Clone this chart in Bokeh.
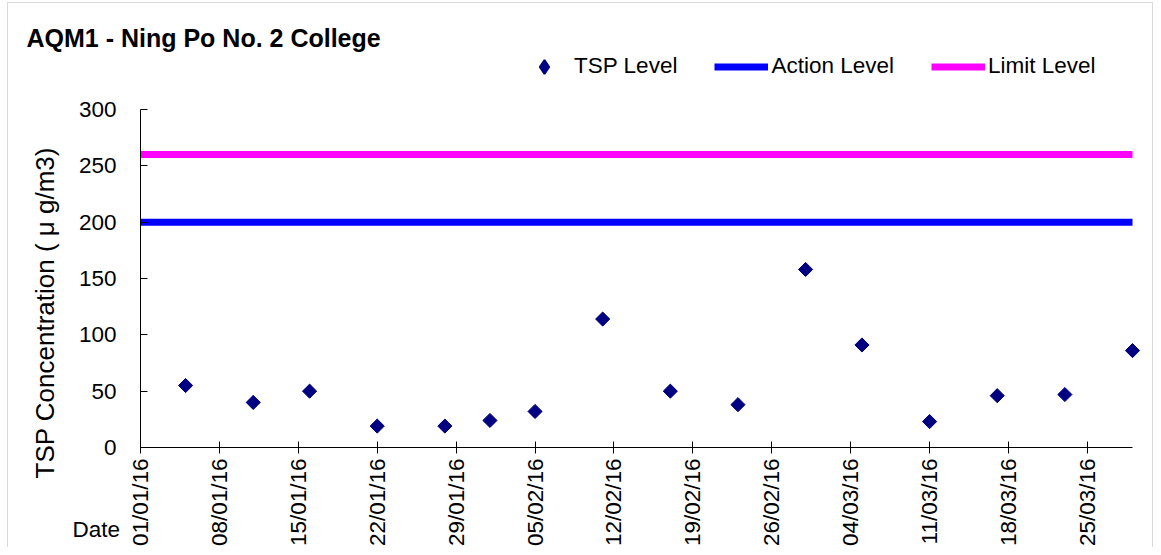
import numpy as np
import pandas as pd
from bokeh.plotting import figure
from bokeh.models import (Range1d, FixedTicker, Legend, LegendItem,
                          ColumnDataSource, Label, BoxAnnotation)
from bokeh.embed import file_html
from bokeh.resources import INLINE

# ---------------- data ----------------
sample_dates = ["2016-01-05", "2016-01-11", "2016-01-16", "2016-01-22",
                "2016-01-28", "2016-02-01", "2016-02-05", "2016-02-11",
                "2016-02-17", "2016-02-23", "2016-02-29", "2016-03-05",
                "2016-03-11", "2016-03-17", "2016-03-23", "2016-03-29"]
tsp_level = [55, 40, 50, 19, 19, 24, 32, 114, 50, 38, 158, 91, 23, 46, 47, 86]

action_level = 200
limit_level = 260
level_dates = ["2016-01-01", "2016-03-29"]

tick_dates = ["2016-01-01", "2016-01-08", "2016-01-15", "2016-01-22",
              "2016-01-29", "2016-02-05", "2016-02-12", "2016-02-19",
              "2016-02-26", "2016-03-04", "2016-03-11", "2016-03-18",
              "2016-03-25"]
tick_labels = ["01/01/16", "08/01/16", "15/01/16", "22/01/16", "29/01/16",
               "05/02/16", "12/02/16", "19/02/16", "26/02/16", "04/03/16",
               "11/03/16", "18/03/16", "25/03/16"]
y_ticks = [0, 50, 100, 150, 200, 250, 300]
y_bounds = [0, 300]

title_text = "AQM1 - Ning Po No. 2 College"
y_label_text = "TSP Concentration ( \u03bc g/m3)"
x_label_text = "Date"


def ms(d):
    return pd.Timestamp(d).value / 1e6


# ---------------- layout geometry (pixels) ----------------
W, H = 1153, 547
PX_X0, PX_X1 = 140, 1132       # where the x axis starts / ends
PX_Y0, PX_Y1 = 447, 109        # where y = 0 / y = 300 sit
FONT = "Liberation Sans"
FS = "22.5px"
MID = 0.3465                   # em-box centre above the baseline

x0, x1 = ms(level_dates[0]), ms(level_dates[1])
ppx = (PX_X1 - PX_X0) / (x1 - x0)
ppy = (PX_Y0 - PX_Y1) / (y_bounds[1] - y_bounds[0])

p = figure(width=W, height=H, x_axis_type="datetime",
           output_backend="svg", toolbar_location=None,
           min_border=0, min_border_left=0, min_border_right=0,
           min_border_top=0, min_border_bottom=0)
p.x_range = Range1d(x0 - PX_X0 / ppx, x0 + (W - PX_X0) / ppx)
p.y_range = Range1d(-(H - PX_Y0) / ppy, PX_Y0 / ppy)
p.grid.visible = False
p.outline_line_color = None
p.background_fill_color = "white"
p.border_fill_color = "white"

# level lines
src_lvl = ColumnDataSource(dict(x=[ms(d) for d in level_dates],
                                a=[action_level] * len(level_dates),
                                l=[limit_level] * len(level_dates)))
r_act = p.line("x", "a", source=src_lvl, line_color="#0000FF", line_width=7)
r_lim = p.line("x", "l", source=src_lvl, line_color="#FF00FF", line_width=7)

# TSP points (rotated squares = Excel diamonds)
src = ColumnDataSource(dict(x=[ms(d) for d in sample_dates], y=tsp_level))
r_tsp = p.scatter("x", "y", source=src, marker="square", size=10,
                  angle=np.pi / 4, fill_color="#000080",
                  line_color="#000080")
# zero-size twin used only for the legend symbol
r_tsp_leg = p.scatter("x", "y", source=src, marker="diamond", size=0,
                      fill_color="#000080", line_color="#000080",
                      line_width=2)

# axes (drawn at the data origin, spanning only the data bounds)
xa = p.xaxis[0]
xa.fixed_location = y_bounds[0]
xa.bounds = (x0, x1)
xa.ticker = FixedTicker(ticks=[ms(d) for d in tick_dates])
xa.major_label_overrides = {ms(d): lab for d, lab in zip(tick_dates, tick_labels)}
xa.major_label_orientation = np.pi / 2
xa.major_tick_in = 6
xa.major_tick_out = 6
xa.minor_tick_in = 0
xa.minor_tick_out = 0
xa.major_label_standoff = 5
xa.major_label_text_font = FONT
xa.major_label_text_font_size = FS
xa.major_label_text_color = "black"
xa.axis_line_color = "black"
xa.major_tick_line_color = "black"

ya = p.yaxis[0]
ya.fixed_location = x0
ya.bounds = tuple(y_bounds)
ya.ticker = FixedTicker(ticks=y_ticks)
ya.major_tick_in = 7
ya.major_tick_out = 0
ya.minor_tick_in = 0
ya.minor_tick_out = 0
ya.major_label_standoff = 24
ya.major_label_text_font = FONT
ya.major_label_text_font_size = FS
ya.major_label_text_color = "black"
ya.axis_line_color = "black"
ya.major_tick_line_color = "black"

# texts (screen units, measured from the bottom-left of the plot area)
TITLE_FS = 25
p.add_layout(Label(x=26, y=H - (46 - MID * TITLE_FS),
                   x_units="screen", y_units="screen",
                   text=title_text, text_font=FONT,
                   text_font_size=f"{TITLE_FS}px",
                   text_font_style="bold", text_color="black",
                   text_baseline="middle", text_align="left"))
YL_FS = 26
p.add_layout(Label(x=54 - MID * YL_FS, y=H - 478,
                   x_units="screen", y_units="screen",
                   text=y_label_text, angle=np.pi / 2, text_font=FONT,
                   text_font_size=f"{YL_FS}px", text_color="black",
                   text_baseline="middle", text_align="left"))
p.add_layout(Label(x=72, y=H - (536.7 - MID * 22.5),
                   x_units="screen", y_units="screen",
                   text=x_label_text, text_font=FONT, text_font_size=FS,
                   text_color="black", text_baseline="middle",
                   text_align="left"))

GH = 35
legend = Legend(items=[LegendItem(label="TSP Level", renderers=[r_tsp_leg]),
                       LegendItem(label="Action Level", renderers=[r_act]),
                       LegendItem(label="Limit Level", renderers=[r_lim])],
                location=(517, H - (66 + GH / 2)), orientation="horizontal",
                padding=0, margin=0, spacing=37, label_standoff=3,
                glyph_width=54, glyph_height=GH, label_height=GH,
                border_line_color=None, background_fill_alpha=0,
                label_text_font=FONT, label_text_font_size=FS,
                label_text_color="black")
p.add_layout(legend, "center")

# chart border
p.add_layout(BoxAnnotation(left=7, right=W - 1, top=H - 2, bottom=-10,
                           left_units="screen", right_units="screen",
                           top_units="screen", bottom_units="screen",
                           fill_alpha=0, line_color="#808080", line_width=1))

open("out.html", "w").write(file_html(p, INLINE))
